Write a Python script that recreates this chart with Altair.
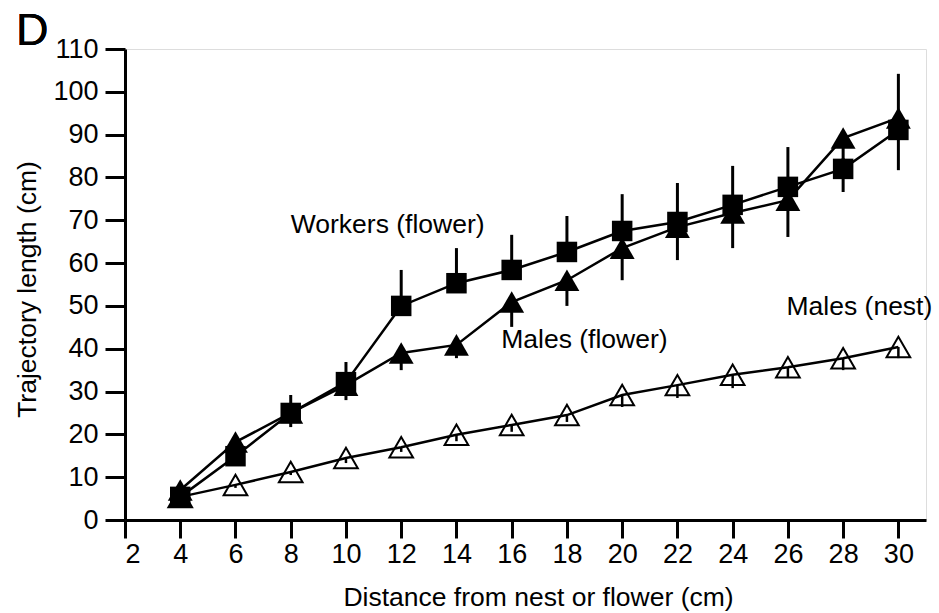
import altair as alt
import pandas as pd

# Distance from nest or flower (cm)
dist = [4, 6, 8, 10, 12, 14, 16, 18, 20, 22, 24, 26, 28, 30]

# Trajectory length (cm): means and error-bar ends
workers_flower = [5.4, 14.9, 25.0, 32.2, 50.0, 55.3, 58.4, 62.6, 67.5, 69.6, 73.6, 77.8, 82.0, 91.1]
workers_flower_hi = [7.0, 16.3, 29.2, 36.9, 58.4, 63.5, 66.6, 71.0, 76.1, 78.7, 82.7, 87.1, 84.5, 104.2]

males_flower = [7.0, 18.2, 25.0, 31.5, 39.0, 40.9, 50.9, 56.0, 63.5, 68.4, 71.7, 74.7, 89.2, 93.9]
males_flower_lo = [4.7, 16.3, 21.7, 28.0, 35.0, 37.8, 45.1, 50.0, 56.0, 60.7, 63.5, 66.1, 76.6, 81.7]

males_nest = [5.4, 8.2, 11.2, 14.5, 17.0, 19.9, 22.2, 24.5, 29.2, 31.5, 33.9, 35.7, 37.8, 40.4]
males_nest_lo = [4.8, 7.5, 10.5, 13.3, 15.9, 18.4, 20.6, 22.9, 26.4, 28.5, 30.8, 33.2, 35.0, 37.8]

# Series labels and where they sit (data units, left-aligned on baseline)
label_text = ["Workers (flower)", "Males (flower)", "Males (nest)"]
label_x = [8.0, 15.62, 25.95]
label_y = [67.0, 40.2, 47.9]

FONT = "Liberation Sans"

wf = pd.DataFrame({"d": dist, "v": workers_flower, "e": workers_flower_hi})
mf = pd.DataFrame({"d": dist, "v": males_flower, "e": males_flower_lo})
mn = pd.DataFrame({"d": dist, "v": males_nest, "e": males_nest_lo})
labels = pd.DataFrame({"t": label_text, "x": label_x, "y": label_y})

x_scale = alt.Scale(domain=[2, 31], nice=False, zero=False)
y_scale = alt.Scale(domain=[0, 110], nice=False)

x_axis = alt.Axis(
    values=list(range(2, 31, 2)), grid=False,
    domainColor="black", domainWidth=3, tickColor="black", tickWidth=3, tickSize=18,
    labelFont=FONT, labelFontSize=27, labelColor="black", labelPadding=3,
    title="Distance from nest or flower (cm)", titleFont=FONT, titleFontSize=26.5,
    titleFontWeight="normal", titleColor="black",
    titleX=413, titleY=85, titleBaseline="alphabetic", titleAlign="center",
)
y_axis = alt.Axis(
    values=list(range(0, 111, 10)), grid=False,
    domainColor="black", domainWidth=3, tickColor="black", tickWidth=3, tickSize=20,
    labelFont=FONT, labelFontSize=27, labelColor="black", labelPadding=7,
    title="Trajectory length (cm)", titleFont=FONT, titleFontSize=26.5,
    titleFontWeight="normal", titleColor="black",
    titleX=-90, titleY=240, titleAngle=-90, titleBaseline="alphabetic", titleAlign="center",
)

X = alt.X("d:Q", scale=x_scale, axis=x_axis)
Y = alt.Y("v:Q", scale=y_scale, axis=y_axis)
Xn = alt.X("d:Q", scale=x_scale)
Yn = alt.Y("v:Q", scale=y_scale)


def series(df, shape, filled, size, bar_w):
    line = alt.Chart(df).mark_line(color="black", strokeWidth=2.5).encode(x=Xn, y=Yn)
    bars = alt.Chart(df).mark_rule(color="black", strokeWidth=bar_w).encode(
        x=Xn, y=Yn, y2=alt.Y2("e:Q"))
    pts = alt.Chart(df).mark_point(
        shape=shape, filled=filled, size=size, color="black",
        strokeWidth=2, opacity=1,
    ).encode(x=Xn, y=Yn)
    return line, bars, pts


l1, b1, p1 = series(mn, "triangle-up", False, 560, 2.5)
l2, b2, p2 = series(mf, "triangle-up", True, 620, 3)
l3, b3, p3 = series(wf, "square", True, 420, 3)

axes = alt.Chart(wf).mark_point(opacity=0).encode(x=X, y=Y)

text = alt.Chart(labels).mark_text(
    font=FONT, fontSize=26.5, align="left", baseline="alphabetic", color="black"
).encode(x=alt.X("x:Q", scale=x_scale), y=alt.Y("y:Q", scale=y_scale), text="t:N")

panel = alt.Chart(labels).mark_text(
    font=FONT, fontSize=45, align="left", baseline="alphabetic", color="black"
).encode(x=alt.value(-109), y=alt.value(-4), text=alt.value("D"))

chart = alt.layer(
    axes, l1, l2, l3, b1, b2, b3, p1, p2, p3, text, panel
).properties(
    width=801, height=471,
    autosize=alt.AutoSizeParams(type="none"),
    padding={"left": 125, "top": 49, "right": 13, "bottom": 93},
).configure_view(stroke=None).configure(background="white")

chart.save("out.html", embed_options={"renderer": "svg", "actions": False})
